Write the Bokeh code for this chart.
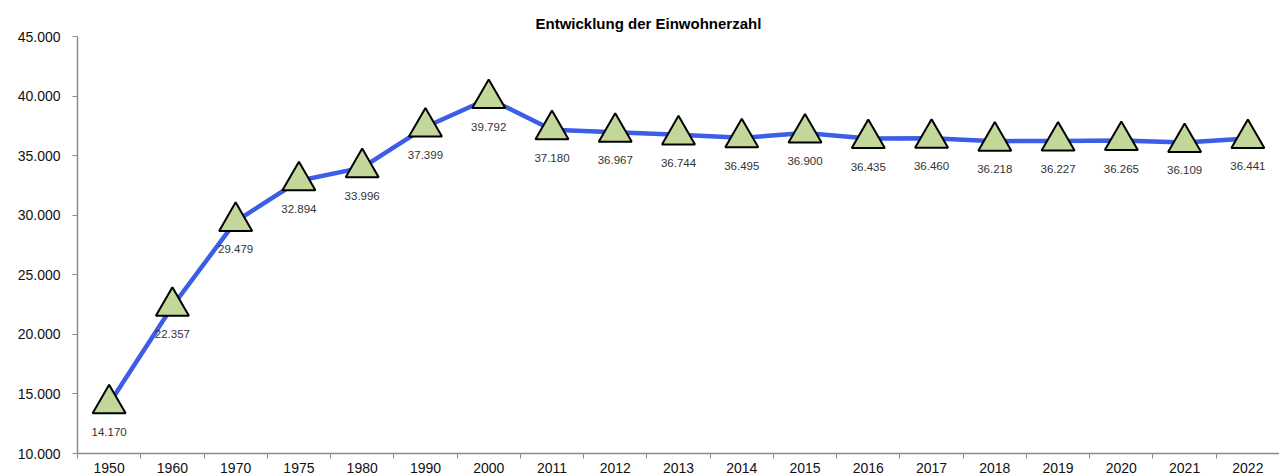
from bokeh.plotting import figure
from bokeh.models import Range1d, FixedTicker, ColumnDataSource, LabelSet
from bokeh.core.properties import value
from bokeh.embed import file_html
from bokeh.resources import INLINE

years = ["1950", "1960", "1970", "1975", "1980", "1990", "2000", "2011", "2012", "2013",
         "2014", "2015", "2016", "2017", "2018", "2019", "2020", "2021", "2022"]
population = [14170, 22357, 29479, 32894, 33996, 37399, 39792, 37180, 36967, 36744,
              36495, 36900, 36435, 36460, 36218, 36227, 36265, 36109, 36441]
y_ticks = [10000, 15000, 20000, 25000, 30000, 35000, 40000, 45000]

def de_fmt(v):
    return f"{v:,}".replace(",", ".")

xpos = [i + 0.5 for i in range(len(years))]
src = ColumnDataSource(dict(x=xpos, y=population, lbl=[de_fmt(v) for v in population]))

p = figure(width=1279, height=475, output_backend="svg", toolbar_location=None,
           x_range=Range1d(0, len(years)), y_range=Range1d(10000, 45000),
           title="Entwicklung der Einwohnerzahl",
           min_border_left=77, min_border_right=0, min_border_top=36, min_border_bottom=20)
p.title.align = "left"
p.title.offset = 458
p.title.text_font = "Liberation Sans"
p.title.text_font_size = "15px"
p.title.text_font_style = "bold"
p.title.text_color = "#000000"

p.outline_line_color = None
p.xgrid.visible = False
p.ygrid.visible = False

ax = p.xaxis[0]
ax.ticker = FixedTicker(ticks=xpos, minor_ticks=list(range(len(years) + 1)))
ax.major_label_overrides = {x: y for x, y in zip(xpos, years)}
ax.major_tick_line_color = None
ax.minor_tick_line_color = "#8c8c8c"
ax.minor_tick_out = 5
ax.minor_tick_in = 0
ax.axis_line_color = "#8c8c8c"
ax.axis_line_width = 1.5
ax.major_label_text_font = "Liberation Sans"
ax.major_label_text_font_size = "14px"
ax.major_label_text_color = "#111111"
ax.major_label_standoff = 3

ay = p.yaxis[0]
ay.ticker = FixedTicker(ticks=y_ticks)
ay.major_label_overrides = {v: de_fmt(v) for v in y_ticks}
ay.minor_tick_line_color = None
ay.major_tick_line_color = "#8c8c8c"
ay.major_tick_out = 5
ay.major_tick_in = 0
ay.axis_line_color = "#8c8c8c"
ay.axis_line_width = 1.5
ay.major_label_text_font = "Liberation Sans"
ay.major_label_text_font_size = "14px"
ay.major_label_text_color = "#111111"
ay.major_label_standoff = 12

p.line("x", "y", source=src, line_color="#3B5DE7", line_width=4.5)
p.scatter("x", "y", source=src, marker="triangle", size=33,
          fill_color="#C4D79B", line_color="#000000", line_width=2)

labels = LabelSet(x="x", y="y", text="lbl", source=src, y_offset=-28,
                  text_align="center", text_baseline="middle",
                  text_font=value("Liberation Sans"), text_font_size="11.5px",
                  text_color="#333333")
p.add_layout(labels)

open("out.html", "w").write(file_html(p, INLINE))
